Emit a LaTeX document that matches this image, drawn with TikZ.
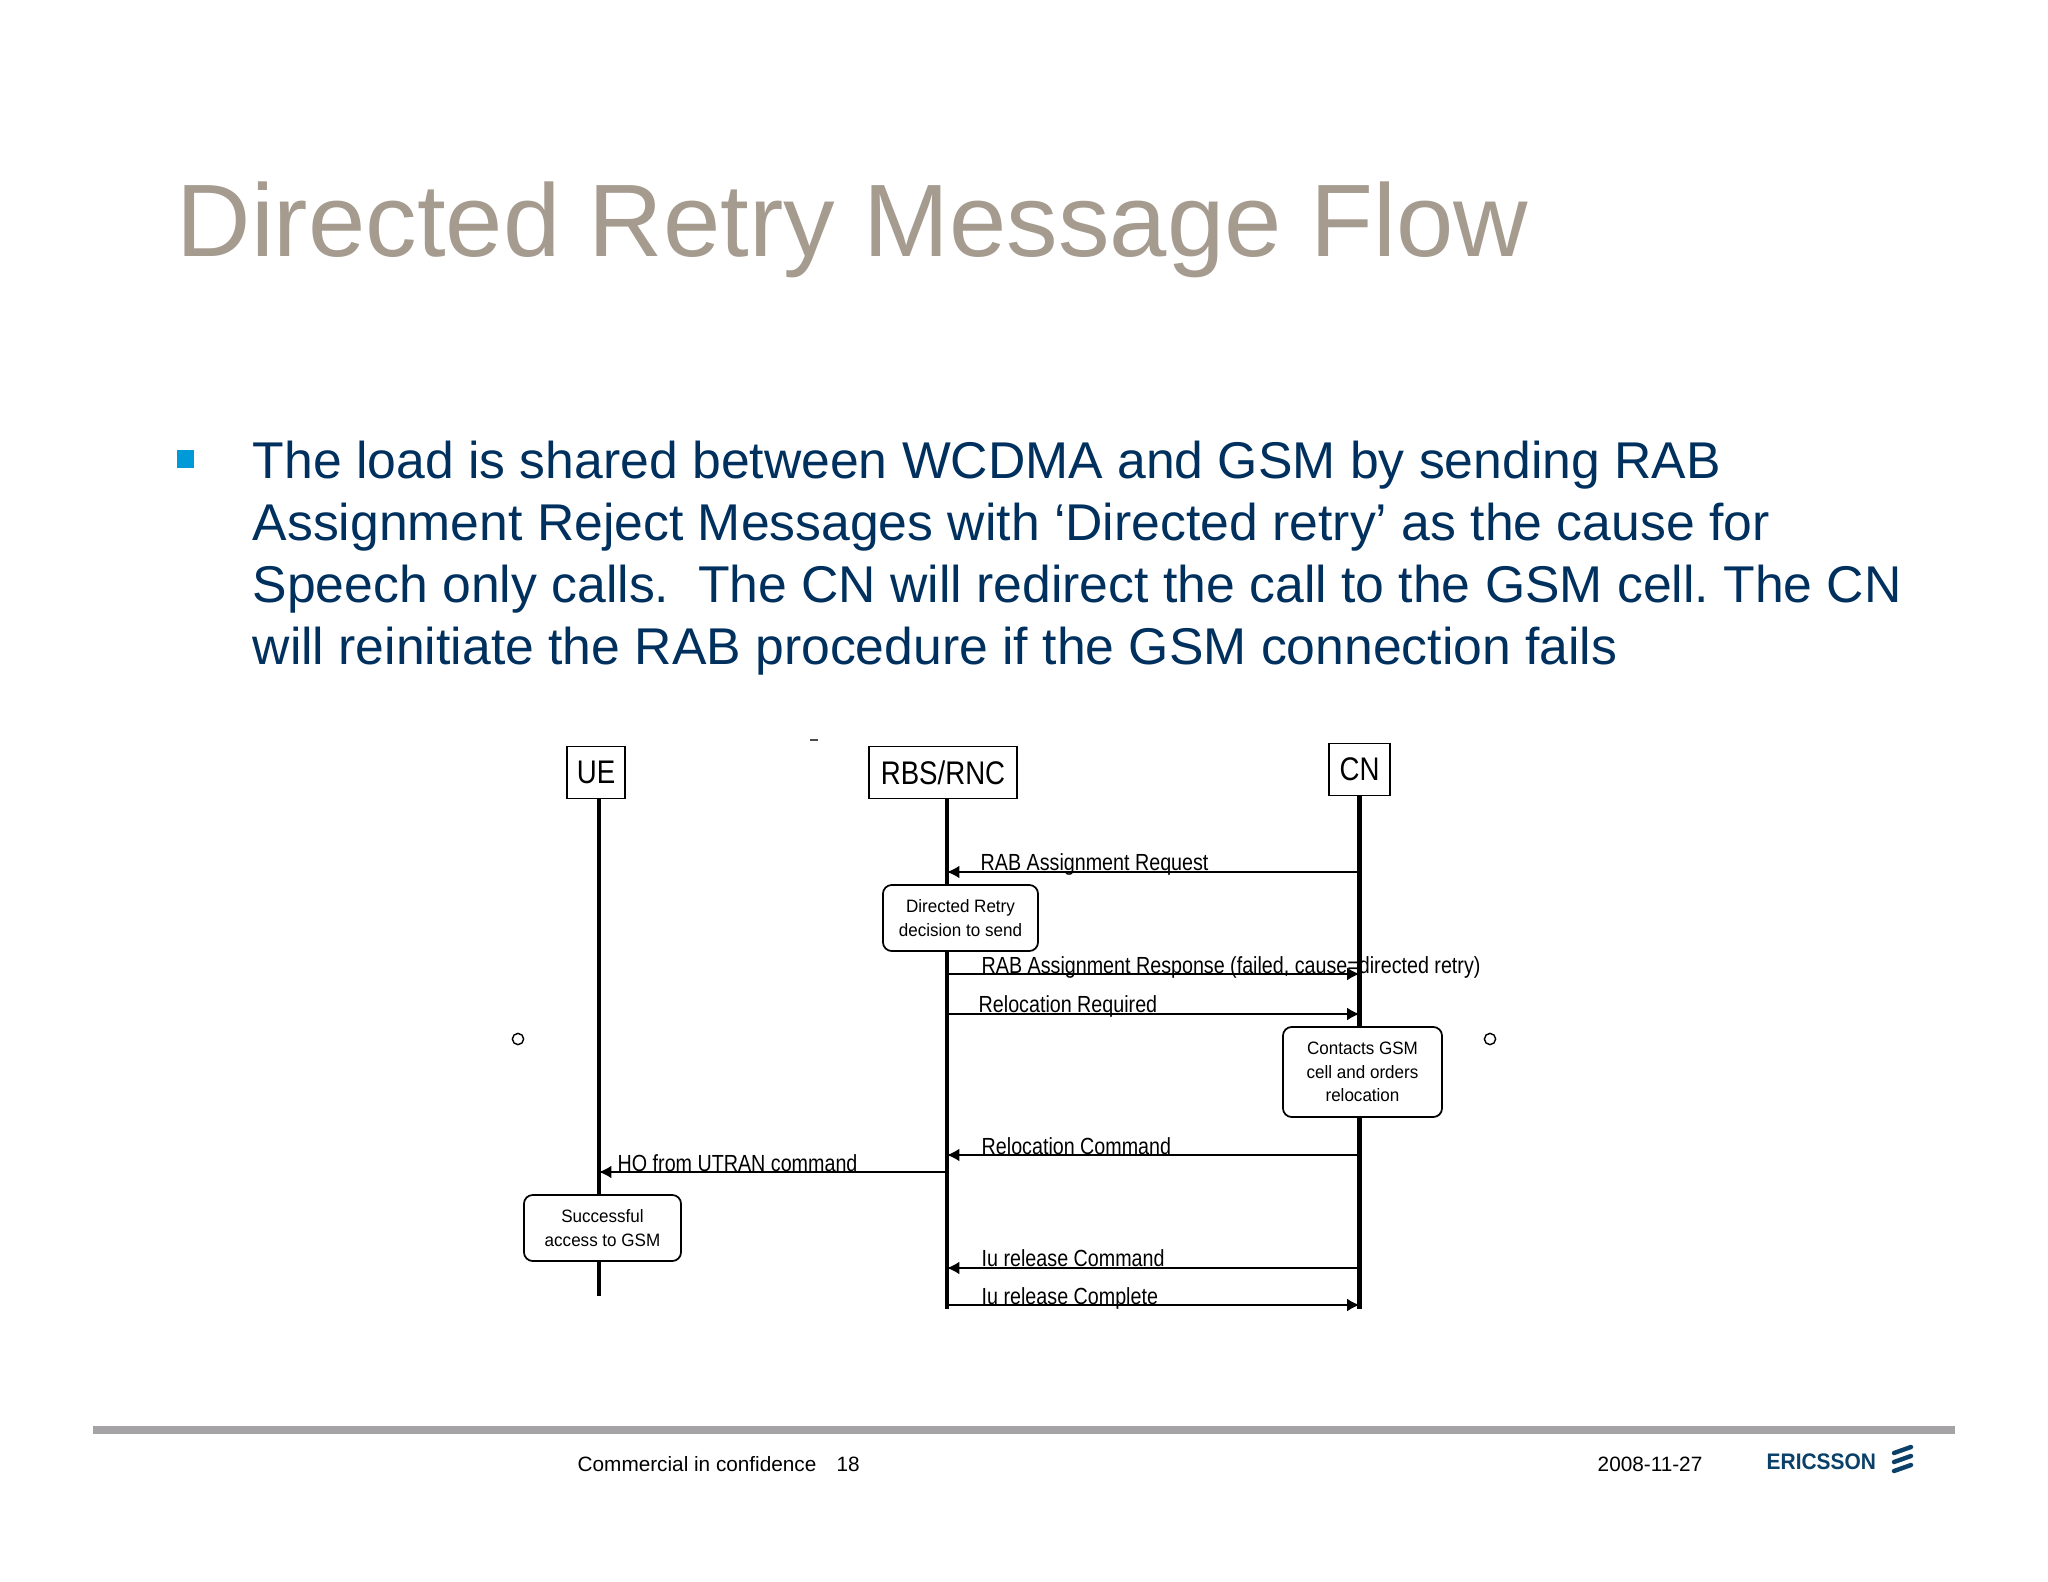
\documentclass[tikz,border=0pt]{standalone}
\usepackage{fontspec}
\setmainfont{Liberation Sans}
\newfontfamily\narrowfont[FakeStretch=0.845]{Liberation Sans}
\newfontfamily\notefont[FakeStretch=0.95]{Liberation Sans}
\newfontfamily\logofont[FakeStretch=0.93]{Liberation Sans}
\usepackage{xcolor}
\definecolor{Slide-title}{RGB}{165, 155, 143}
\definecolor{Slide-navy}{RGB}{0, 48, 94}
\definecolor{Slide-cyan}{RGB}{0, 154, 217}
\definecolor{Slide-rule}{RGB}{165, 163, 165}
\definecolor{Slide-logo}{RGB}{11, 64, 105}
\usetikzlibrary{arrows.meta,positioning,calc}

\begin{document}
\begin{tikzpicture} [
    x=0.01cm, y=-0.01cm, >={Latex[length=3.5pt,width=3.6pt]},
    head/.style = {rectangle,draw,line width=0.5pt,inner sep=0,minimum height=52*0.2845pt,font=\fontsize{9.3}{11}\narrowfont},
    life/.style = {line width=1.15pt},
    msg/.style = {->,line width=0.45pt},
    msgtext/.style = {anchor=base west,inner sep=0,font=\fontsize{6.63}{8}\narrowfont},
    note/.style = {rectangle,rounded corners=2.5pt,draw,fill=white,line width=0.5pt,inner sep=0,align=center,font=\fontsize{5.1}{5.15}\notefont},
    ring/.style = {circle,draw,line width=0.4pt,inner sep=0,minimum size=3.2pt},
    foot/.style = {anchor=base west,inner sep=0,font=\fontsize{5.9}{7}\selectfont}
    ]

    \def \xue {599}
    \def \xrnc {947}
    \def \xcn {1359.5}

    \fill[white] (0,0) rectangle (2048,1582);
    \useasboundingbox (0,0) rectangle (2048,1582);

    \node (title) [anchor=base west,inner sep=0,text=Slide-title,font=\fontsize{29.3}{35}\selectfont] at (176,257) {Directed Retry Message Flow};

    \node (bullet) [rectangle,fill=Slide-cyan,inner sep=0,minimum size=17*0.2845pt] at (185.5,459) {};
    \node (body) [anchor=north west,inner sep=0,align=left,text=Slide-navy,font=\fontsize{14.7}{17.65}\selectfont\frenchspacing] at (252,440)
        {The load is shared between WCDMA and GSM by sending RAB\\
         Assignment Reject Messages with ‘Directed retry’ as the cause for\\
         Speech only calls.~ The CN will redirect the call to the GSM cell. The CN\\
         will reinitiate the RAB procedure if the GSM connection fails};

    \node (ue) [head,minimum width=58*0.2845pt] at (596,772.5) {UE};
    \node (rnc) [head,minimum width=148*0.2845pt] at (943,772.5) {RBS/RNC};
    \node (cn) [head,minimum width=61*0.2845pt] at (1359.5,769.5) {CN};

    \coordinate (uebot) at (\xue,1296);
    \coordinate (rncbot) at (\xrnc,1309);
    \coordinate (cnbot) at (\xcn,1309);

    \draw[life] (ue.south -| uebot) -- (uebot);
    \draw[life] (rnc.south -| rncbot) -- (rncbot);
    \draw[life] (cn.south -| cnbot) -- (cnbot);

    \foreach \m/\yy in {req/872, resp/974, reqd/1014, cmd/1155, ho/1172, rel/1268, done/1305}
        {
            \coordinate (ue-\m) at (\xue,\yy);
            \coordinate (rnc-\m) at (\xrnc,\yy);
            \coordinate (cn-\m) at (\xcn,\yy);
        }

    \draw[msg] (cn-req) -- (rnc-req);
    \draw[msg] (rnc-resp) -- (cn-resp);
    \draw[msg] (rnc-reqd) -- (cn-reqd);
    \draw[msg] (cn-cmd) -- (rnc-cmd);
    \draw[msg] (rnc-ho) -- (ue-ho);
    \draw[msg] (cn-rel) -- (rnc-rel);
    \draw[msg] (rnc-done) -- (cn-done);

    \node (reqtext) [msgtext] at (980,870) {RAB Assignment Request};
    \node (resptext) [msgtext] at (981,973) {RAB Assignment Response (failed, cause=directed retry)};
    \node (reqdtext) [msgtext] at (978,1012) {Relocation Required};
    \node (cmdtext) [msgtext] at (981,1154) {Relocation Command};
    \node (hotext) [msgtext] at (617,1171) {HO from UTRAN command};
    \node (reltext) [msgtext] at (981,1266) {Iu release Command};
    \node (donetext) [msgtext] at (981,1304) {Iu release Complete};

    \node (retry) [note,minimum width=155*0.2845pt,minimum height=66*0.2845pt] at (960.5,918) {Directed Retry\\[1.55pt]decision to send};
    \node (contacts) [note,minimum width=159*0.2845pt,minimum height=90*0.2845pt] at (1362.5,1072) {Contacts GSM\\[1.55pt]cell and orders\\[1.55pt]relocation};
    \node (access) [note,minimum width=157*0.2845pt,minimum height=66*0.2845pt] at (602.5,1228) {Successful\\[1.55pt]access to GSM};

    \node (ringl) [ring] at (518,1039) {};
    \node (ringr) [ring] at (1490,1039) {};
    \node (tick) [rectangle,fill=black!70,inner sep=0,minimum width=2pt,minimum height=0.4pt] at (814,740) {};

    \fill[Slide-rule] (93,1426) rectangle (1955,1434);

    \node (conf) [foot] at (577,1471) {Commercial in confidence};
    \node (page) [foot] at (836,1471) {18};
    \node (date) [foot] at (1597,1471) {2008-11-27};

    \node (logo) [anchor=base west,inner sep=0,text=Slide-logo,font=\fontsize{6.4}{8}\logofont\bfseries] at (1766,1469) {ERICSSON};
    \foreach \yy in {1450,1459,1468}
        \draw[Slide-logo,line width=1.25pt,line cap=round] (1894,\yy+3) -- (1911,\yy-3);

\end{tikzpicture}
\end{document}
